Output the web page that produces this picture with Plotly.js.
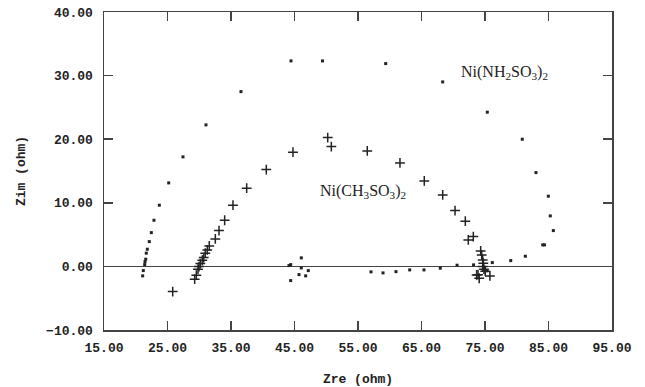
<!DOCTYPE html>
<html>
<head>
<meta charset="utf-8">
<script src="https://cdn.plot.ly/plotly-3.0.1.min.js"></script>
<style>html,body{margin:0;padding:0;background:#fff;}#chart{width:645px;height:387px;}</style>
</head>
<body>
<div id="chart"></div>
<script>
// Ni(NH2SO3)2 series (dots)
const nh2Zre = [21.09,21.19,21.41,21.46,21.57,21.66,21.82,22.13,22.45,22.87,23.71,25.19,27.44,31.06,36.57,44.45,49.41,59.36,68.34,75.36,80.87,83.03,84.97,85.28,85.76,84.37,84.09,81.35,79.05,76.15,74.9,75.3,73.2,70.6,67.96,65.39,63.14,60.98,58.94,57.05,47.17,46.76,46.07,46.07,45.71,44.40,44.13,44.40];
const nh2Zim = [-1.49,-0.66,0.28,0.75,1.13,2.08,2.70,3.90,5.31,7.26,9.62,13.13,17.22,22.25,27.48,32.31,32.31,31.89,29.01,24.25,20.0,14.75,11.04,7.94,5.63,3.38,3.38,1.60,0.91,0.60,-0.3,-0.7,0.24,0.19,-0.28,-0.55,-0.55,-0.82,-1.02,-0.86,-0.66,-1.49,-0.24,1.34,-1.29,0.28,0.13,-2.23];
// Ni(CH3SO3)2 series (crosses)
const ch3Zre = [25.82,29.28,29.54,29.80,29.96,30.17,30.48,30.70,30.95,31.27,31.58,32.53,33.11,34.0,35.31,37.47,40.56,44.76,50.23,50.80,56.46,61.61,65.44,68.34,70.28,71.90,72.37,73.16,74.32,74.48,74.64,74.73,74.64,74.84,75.04,73.68,74.09,75.77,73.9];
const ch3Zim = [-3.96,-2.01,-1.38,-0.44,-0.03,0.44,0.97,1.38,2.08,2.59,3.22,4.32,5.63,7.26,9.62,12.30,15.22,17.96,20.25,18.84,18.16,16.27,13.44,11.24,8.77,7.11,4.17,4.69,2.44,1.81,1.02,0.50,-0.03,-0.44,-0.75,-1.34,-1.86,-1.49,-1.3];
const xTitle = 'Zre (ohm)';
const yTitle = 'Zim (ohm)';
const labelNH2 = 'Ni(NH<sub>2</sub>SO<sub>3</sub>)<sub>2</sub>';
const labelCH3 = 'Ni(CH<sub>3</sub>SO<sub>3</sub>)<sub>2</sub>';

const monoFam = '"Liberation Mono", "DejaVu Sans Mono", monospace';
const tickFont = {family: monoFam, size: 13, color: '#222', weight: 'bold'};
const axisCommon = {
  showline: true, linecolor: '#444', linewidth: 1.5, mirror: 'ticks',
  ticks: 'inside', ticklen: 9, tickwidth: 1.5, tickcolor: '#444',
  showgrid: false, tickformat: '.2f', tickfont: tickFont
};

const traces = [
  {x: nh2Zre, y: nh2Zim, mode: 'markers', type: 'scatter', name: 'Ni(NH2SO3)2',
   marker: {symbol: 'square', size: 3, color: '#222'}},
  {x: ch3Zre, y: ch3Zim, mode: 'markers', type: 'scatter', name: 'Ni(CH3SO3)2',
   marker: {symbol: 'cross-thin-open', size: 7, color: '#222', line: {color: '#222', width: 1.5}}}
];

const layout = {
  width: 645, height: 387,
  margin: {l: 104, r: 33, t: 12, b: 57},
  paper_bgcolor: '#fff', plot_bgcolor: '#fff',
  showlegend: false,
  xaxis: Object.assign({}, axisCommon, {
    range: [15, 95], tick0: 15, dtick: 10, zeroline: false, ticklabelstandoff: 5,
    title: {text: xTitle, font: {family: monoFam, size: 13, color: '#222', weight: 'bold'}, standoff: 20}
  }),
  yaxis: Object.assign({}, axisCommon, {
    range: [-10, 40], tick0: -10, dtick: 10, ticklabelstandoff: 7,
    zeroline: true, zerolinecolor: '#444', zerolinewidth: 1.5,
    title: {text: yTitle, font: {family: monoFam, size: 13, color: '#222', weight: 'bold'}, standoff: 17}
  }),
  annotations: [
    {x: 78.07, y: 30.42, xref: 'x', yref: 'y', text: labelNH2, showarrow: false,
     font: {family: '"Liberation Serif", "DejaVu Serif", serif', size: 16, color: '#222'}},
    {x: 55.84, y: 11.76, xref: 'x', yref: 'y', text: labelCH3, showarrow: false,
     font: {family: '"Liberation Serif", "DejaVu Serif", serif', size: 16, color: '#222'}}
  ]
};

Plotly.newPlot('chart', traces, layout, {staticPlot: true, displayModeBar: false});
</script>
</body>
</html>
